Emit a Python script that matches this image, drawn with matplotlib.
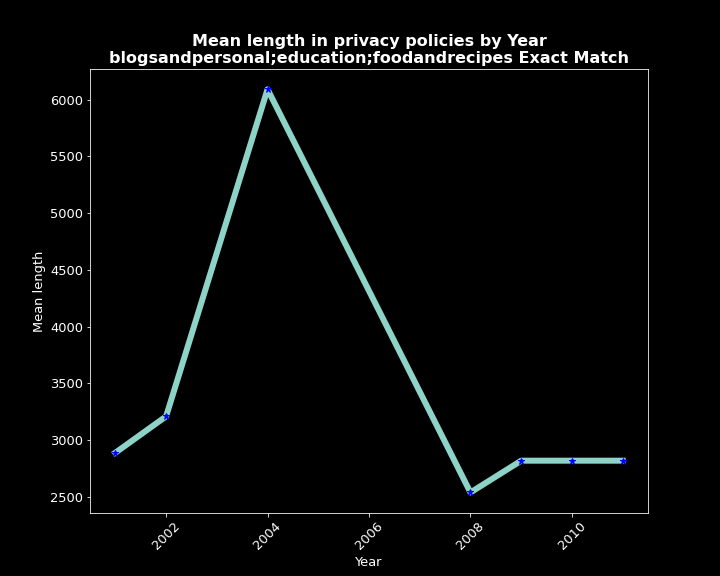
import matplotlib
matplotlib.use("Agg")
import matplotlib.pyplot as plt

years = [2001, 2002, 2004, 2008, 2009, 2010, 2011]
mean_length = [2890, 3210, 6090, 2540, 2820, 2820, 2820]

plt.style.use("dark_background")
fig, ax = plt.subplots(figsize=(10, 8), dpi=72)
ax.plot(years, mean_length, color="#8dd3c7", linewidth=6)
ax.plot(years, mean_length, "*", color="blue", markersize=7)
ax.set_title("Mean length in privacy policies by Year\nblogsandpersonal;education;foodandrecipes Exact Match",
             fontsize=16, fontweight="bold")
ax.set_xlabel("Year", fontsize=13)
ax.set_ylabel("Mean length", fontsize=13)
ax.tick_params(labelsize=13)
plt.setp(ax.get_xticklabels(), rotation=45)
fig.savefig("out.png")
